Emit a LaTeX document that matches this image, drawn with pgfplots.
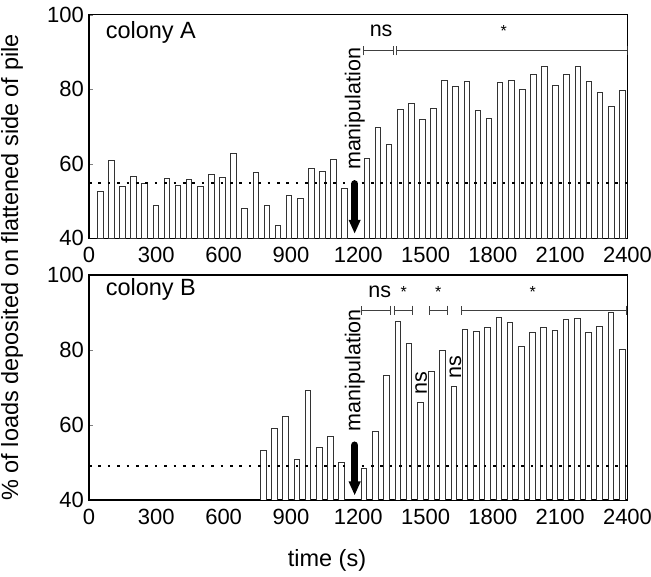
\documentclass[border=0pt]{standalone}
\usepackage{fontspec}
\setmainfont{Liberation Sans}
\usepackage{pgfplots}
\pgfplotsset{compat=1.18}
\usepackage{pgfplotstable}
\usetikzlibrary{arrows.meta}

% loads on flattened side, one bar per 50 s bin
\pgfplotstableread{
t y
50 52.7
99.5 60.8
149 54.0
198.5 56.5
248 54.7
297.5 48.8
347 56.1
396.5 54.2
446 55.9
495.5 53.8
545 57.2
594.5 56.3
644 62.7
693.5 47.9
743 57.7
792.5 48.7
842 43.4
891.5 51.5
941 50.6
990.5 58.7
1040 58.0
1089.5 61.1
1139 53.4
1238 61.5
1287.5 69.8
1337 65.2
1386.5 74.6
1436 76.2
1485.5 72.0
1535 74.9
1584.5 82.4
1634 80.7
1683.5 82.1
1733 74.2
1782.5 72.3
1832 81.8
1881.5 82.4
1931 80.0
1980.5 83.9
2030 86.0
2079.5 80.9
2129 84.1
2178.5 86.0
2228 82.0
2277.5 79.2
2327 75.4
2376.5 79.7
}\colA

\pgfplotstableread{
t y
776 53.2
826 59.0
876 62.4
926 50.8
976 69.2
1026 54.0
1076 56.9
1126 50.0
1226 48.4
1276 58.4
1326 73.3
1376 87.5
1426 81.8
1476 66.0
1526 74.3
1576 79.9
1626 70.2
1676 85.4
1726 85.0
1776 86.0
1826 88.7
1876 87.4
1926 81.0
1976 84.7
2026 86.0
2076 85.3
2126 88.2
2176 88.5
2226 84.8
2276 86.4
2326 90.0
2376 80.2
}\colB

\newcommand{\bigfont}{\fontsize{23.5}{28}\selectfont}
\newcommand{\tickfont}{\fontsize{22}{26}\selectfont}
\newcommand{\annfont}{\fontsize{21.5}{25}\selectfont}

\pgfplotsset{
  panel/.style={
    scale only axis, width=538.5pt,
    xmin=0, xmax=2400, ymin=40, ymax=100,
    xtick={0,300,...,2400}, ytick={40,60,80,100},
    ytick pos=left, tick align=inside, major tick length=4pt,
    xtick style={draw=none},
    /pgf/number format/assume math mode=true,
    /pgf/number format/1000 sep={},
    tick label style={font=\tickfont},
    yticklabel style={inner sep=0pt, xshift=-5pt},
    xticklabel style={inner sep=0pt, yshift=-9pt},
    axis line style={line width=1.1pt},
  },
  bars/.style={ybar, bar width=25, bar shift=0pt, draw=black!80, line width=0.8pt, fill=white},
  dots/.style={black, line width=2.6pt, dash pattern=on 2.6pt off 6.8pt},
}
\tikzset{br/.style={{Bar[width=9pt]}-{Bar[width=9pt]}, line width=0.8pt, black!75}}

\newcommand{\manip}{%
  \draw[line width=7.5pt, line cap=round, -{Triangle[width=11pt,length=14pt]}]
    (axis cs:1184,54.6) -- (axis cs:1184,41.2);
  \node[rotate=90, anchor=west, inner sep=0pt, font=\annfont] at (axis cs:1185,58.3) {manipulation};
}

\begin{document}
\begin{tikzpicture}
\useasboundingbox (-89pt,-77pt) rectangle (562pt,500pt);

% colony A
\begin{axis}[panel, at={(0pt,261.7pt)}, anchor=south west, height=223.6pt]
\addplot[bars] table[x=t, y=y] {\colA};
\addplot[dots] coordinates {(0,54.8) (2400,54.8)};
\manip
\draw[br] (axis cs:1222,90.3) -- (axis cs:1358,90.3);
\draw[br] (axis cs:1370,90.3) -- (axis cs:2400,90.3);
\node[anchor=base, inner sep=0pt, font=\annfont] at (axis cs:1302,94.1) {ns};
\node[inner sep=0pt, font=\fontsize{16}{18}\selectfont] at (axis cs:1848,95.6) {*};
\node[anchor=base west, inner sep=0pt, font=\bigfont] at (axis cs:74,93.5) {colony A};
\end{axis}

% colony B
\begin{axis}[panel, at={(0pt,0pt)}, anchor=south west, height=225pt]
\addplot[bars] table[x=t, y=y] {\colB};
\addplot[dots] coordinates {(0,49.1) (2400,49.1)};
\manip
\draw[br] (axis cs:1213,90.6) -- (axis cs:1346,90.6);
\draw[br] (axis cs:1361,90.6) -- (axis cs:1444,90.6);
\draw[br] (axis cs:1514,90.6) -- (axis cs:1598,90.6);
\draw[br] (axis cs:1658,90.6) -- (axis cs:2396,90.6);
\node[anchor=base, inner sep=0pt, font=\annfont] at (axis cs:1296,94.1) {ns};
\node[inner sep=0pt, font=\fontsize{16}{18}\selectfont] at (axis cs:1403,95.4) {*};
\node[inner sep=0pt, font=\fontsize{16}{18}\selectfont] at (axis cs:1556,95.4) {*};
\node[inner sep=0pt, font=\fontsize{16}{18}\selectfont] at (axis cs:1978,95.4) {*};
\node[rotate=90, anchor=west, inner sep=0pt, font=\annfont] at (axis cs:1481,68.0) {ns};
\node[rotate=90, anchor=west, inner sep=0pt, font=\annfont] at (axis cs:1633,72.3) {ns};
\node[anchor=base west, inner sep=0pt, font=\bigfont] at (axis cs:74,94.4) {colony B};
\end{axis}

\node[rotate=90, font=\bigfont] at (-77pt,232.5pt) {\% of loads deposited on flattened side of pile};
\node[anchor=base, font=\bigfont] at (238pt,-67pt) {time (s)};
\end{tikzpicture}
\end{document}
